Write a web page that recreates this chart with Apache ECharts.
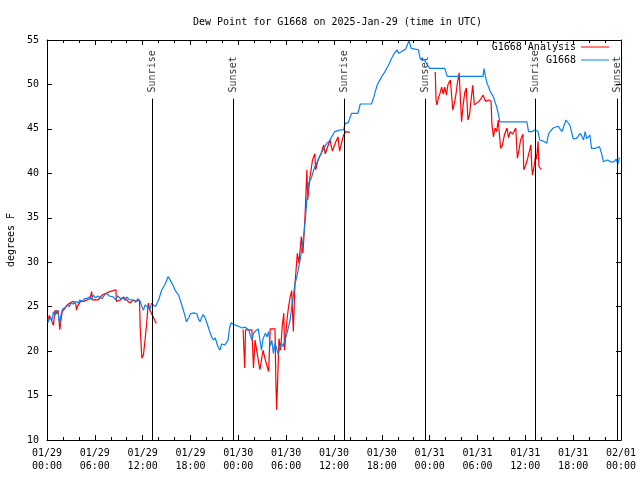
<!DOCTYPE html>
<html>
<head>
<meta charset="utf-8">
<script src="https://cdn.jsdelivr.net/npm/echarts@6/dist/echarts.min.js"></script>
<style>html,body{margin:0;padding:0;background:#fff}#c{width:640px;height:480px}</style>
</head>
<body>
<div id="c"></div>
<script>
var titleText = 'Dew Point for G1668 on 2025-Jan-29 (time in UTC)';
var yAxisName = 'degrees F';
var xTickLabels = ['01/29\n00:00','01/29\n06:00','01/29\n12:00','01/29\n18:00','01/30\n00:00','01/30\n06:00','01/30\n12:00','01/30\n18:00','01/31\n00:00','01/31\n06:00','01/31\n12:00','01/31\n18:00','02/01\n00:00'];

// G1668 (blue): hours since 01/29 00:00 UTC, dew point F
var blueHours = [0.1,0.4,0.6,0.8,1.0,1.2,1.4,1.6,1.8,2.0,2.3,2.5,2.8,3.0,3.3,3.6,3.9,4.1,4.4,4.7,5.0,5.3,5.6,5.8,6.1,6.4,6.6,6.9,7.2,7.5,7.8,8.0,8.3,8.6,8.9,9.2,9.5,9.8,10.0,10.3,10.5,10.8,11.1,11.4,11.7,11.9,12.1,12.3,12.5,12.7,12.9,13.1,13.3,13.6,14.0,14.4,14.8,15.2,15.5,15.8,16.1,16.5,16.8,17.1,17.3,17.5,17.8,18.0,18.4,18.8,19.0,19.2,19.4,19.6,19.8,20.0,20.2,20.4,20.7,20.9,21.1,21.4,21.7,21.9,22.1,22.3,22.5,22.7,22.9,23.1,23.4,23.7,24.0,24.2,24.5,24.8,25.0,25.3,25.5,25.7,25.9,26.2,26.5,26.7,26.9,27.1,27.4,27.6,27.8,28.0,28.2,28.4,28.6,28.8,29.0,29.2,29.4,29.6,29.9,30.1,30.3,30.5,30.7,30.9,31.1,31.3,31.5,31.8,32.0,32.2,32.4,32.6,32.8,33.0,33.2,33.4,33.6,33.9,34.2,34.5,34.8,35.1,35.4,35.7,36.1,36.5,36.9,37.2,37.4,37.8,38.2,38.6,39.0,39.3,39.8,40.2,40.7,41.0,41.4,41.7,42.0,42.3,42.6,42.9,43.2,43.5,43.9,44.1,44.3,44.5,44.7,45.0,45.1,45.4,45.7,46.0,46.6,46.8,47.1,47.4,47.7,48.0,49.9,50.2,54.7,54.8,55.0,55.2,55.4,55.6,56.0,56.2,56.4,56.6,56.8,60.2,60.4,60.9,61.2,61.6,61.8,62.3,62.7,62.9,63.1,63.5,64.1,64.6,65.1,65.6,66.0,66.4,66.9,67.3,67.5,67.7,68.1,68.3,68.7,69.3,69.6,69.8,70.3,70.5,70.7,71.1,71.4,71.6,71.8];
var blueValues = [23.2,23.8,23.4,24.4,24.0,24.6,24.2,23.1,24.3,24.8,24.9,25.2,25.0,25.4,25.3,25.6,25.4,25.75,25.6,25.9,25.9,26.1,25.8,26.3,26.0,26.2,26.1,25.9,26.3,26.5,26.2,26.0,26.1,25.8,26.2,25.9,26.0,25.7,26.1,25.8,26.0,25.75,25.5,25.9,25.6,25.0,24.6,25.2,25.4,24.9,24.6,25.4,25.2,25.0,25.75,26.9,27.5,28.4,27.9,27.4,26.8,26.3,25.5,24.6,24.0,23.3,23.8,24.2,24.3,24.2,23.6,23.3,23.8,24.1,23.8,23.3,22.8,22.2,21.5,21.25,21.5,20.6,20.1,20.8,21.0,20.7,20.5,21.2,22.6,23.2,23.0,22.9,22.8,22.9,22.6,22.7,22.55,22.4,21.8,21.25,22.0,22.3,22.5,22.4,20.1,21.4,22.0,21.6,22.2,20.6,21.2,19.75,20.9,20.3,19.6,20.4,20.9,20.5,21.4,22.0,22.75,23.5,25.0,26.2,27.6,28.2,29.1,30.5,31.75,33.0,34.75,37.0,38.9,39.2,39.6,40.2,40.75,41.3,41.9,42.4,42.9,43.4,43.6,44.1,44.7,44.8,44.9,44.9,45.6,45.7,46.75,46.75,46.75,47.8,47.8,47.8,47.8,48.6,49.9,50.4,50.9,51.3,51.8,52.3,52.9,53.4,53.9,53.5,53.3,53.7,53.8,54.0,54.25,54.9,54.05,54.0,53.9,52.9,52.9,52.7,52.2,51.8,51.8,50.9,50.9,51.8,50.9,50.1,49.7,49.2,48.6,48.0,47.5,46.75,45.8,45.8,44.7,44.7,44.9,44.7,43.75,43.6,43.4,44.4,44.7,45.1,45.3,44.7,46.0,45.4,43.9,43.9,44.5,43.75,44.7,43.9,44.3,42.8,42.8,43.0,42.1,41.3,41.5,41.6,41.3,41.3,41.6,41.0,41.8];

// G1668 Analysis (red), three segments
var redSeg1Hours = [0.1,0.3,0.5,0.8,1.0,1.2,1.4,1.6,1.9,2.3,2.7,3.0,3.3,3.6,3.7,3.8,4.2,4.6,5.0,5.4,5.6,5.7,6.0,6.4,6.9,7.4,7.9,8.3,8.65,8.7,9.2,9.6,10.0,10.4,10.8,11.2,11.6,11.7,11.9,12.1,12.3,12.5,12.7,12.9,13.1,13.3,13.5,13.7];
var redSeg1Values = [23.5,24.0,23.6,22.9,24.6,24.2,24.6,22.4,24.4,24.9,25.3,25.5,25.6,25.3,24.6,25.0,25.6,25.6,25.75,25.9,26.7,25.75,25.8,25.75,26.3,26.5,26.7,26.8,26.9,25.6,25.75,26.1,25.75,25.4,25.75,25.6,25.75,22.4,19.2,19.6,21.25,23.1,25.4,24.6,24.6,23.9,23.5,23.1];
var redSeg2Hours = [24.6,24.7,24.8,24.9,25.7,25.9,26.1,26.3,26.5,26.7,26.9,27.1,27.3,27.6,27.8,28.0,28.0,28.6,28.7,28.8,28.9,29.1,29.3,29.5,29.7,29.8,30.1,30.3,30.5,30.7,30.8,30.9,31.1,31.4,31.6,31.9,32.1,32.3,32.4,32.6,32.7,33.0,33.3,33.6,33.7,34.0,34.4,34.7,34.9,35.5,35.8,36.2,36.5,36.7,37.0,37.2,37.5,37.7,38.0];
var redSeg2Values = [22.4,22.4,18.1,22.4,22.4,18.1,21.25,20.1,19.0,17.9,17.9,20.1,19.3,18.3,17.7,17.7,22.5,22.5,17.0,13.4,15.9,21.4,20.1,22.75,24.25,20.1,23.5,25.0,26.1,26.8,24.4,22.2,27.5,31.0,29.9,32.9,31.0,34.0,35.9,40.4,37.0,39.6,41.5,42.2,40.4,41.5,42.3,43.2,42.2,43.75,42.5,43.5,44.1,42.5,43.6,44.3,44.7,44.9,44.6];
var redSeg3Hours = [48.7,48.8,48.9,49.1,49.3,49.5,49.7,49.9,50.1,50.3,50.6,50.7,50.9,51.1,51.3,51.5,51.7,51.8,52.0,52.2,52.4,52.6,52.8,53.0,53.2,53.4,53.6,53.9,54.2,54.5,54.7,55.0,55.4,55.7,55.8,56.0,56.2,56.4,56.6,56.8,56.9,57.1,57.4,57.7,57.9,58.1,58.4,58.8,59.0,59.2,59.4,59.7,59.8,60.0,60.3,60.7,60.8,60.9,61.1,61.3,61.4,61.6,61.7,61.9,62.0];
var redSeg3Values = [51.4,48.25,47.7,48.5,49.0,49.7,48.9,49.7,48.8,50.0,50.5,50.7,47.1,47.9,48.9,50.3,51.3,51.1,45.8,47.7,49.1,49.6,46.0,46.6,48.3,49.9,47.7,47.9,48.1,48.5,48.8,48.1,48.25,48.1,45.6,44.1,45.1,44.7,46.0,46.2,42.8,43.1,44.4,45.1,44.0,44.7,44.4,45.1,41.7,42.6,43.75,44.4,40.4,40.8,41.7,43.2,40.8,39.8,40.8,42.1,41.6,43.6,40.8,40.6,40.4];

var sunriseHours = [13.22, 37.25, 61.22];
var sunsetHours = [23.38, 47.45, 71.5];

var FONT = 'DejaVu Sans Mono';

function pairs(h, v) { return h.map(function (t, i) { return [t, v[i]]; }); }
var redData = pairs(redSeg1Hours, redSeg1Values)
  .concat([[18, null]])
  .concat(pairs(redSeg2Hours, redSeg2Values))
  .concat([[43, null]])
  .concat(pairs(redSeg3Hours, redSeg3Values));
var blueData = pairs(blueHours, blueValues);

var sunLines = [];
var sunLabels = [];
sunriseHours.forEach(function (t) {
  sunLines.push([{ coord: [t, 10] }, { coord: [t, 48.4] }]);
  sunLabels.push({ value: [t, 49.1], name: 'Sunrise' });
});
sunsetHours.forEach(function (t) {
  sunLines.push([{ coord: [t, 10] }, { coord: [t, 48.4] }]);
  sunLabels.push({ value: [t, 49.1], name: 'Sunset' });
});

var chart = echarts.init(document.getElementById('c'), null, { renderer: 'canvas' });
var axisCommon = {
  type: 'value', min: 0, max: 72, interval: 6,
  axisLine: { show: true, onZero: false, lineStyle: { color: '#000', width: 1 } },
  axisTick: { show: true, inside: true, length: 5, lineStyle: { color: '#000' } },
  minorTick: { show: true, splitNumber: 3, length: 3, lineStyle: { color: '#000' } },
  splitLine: { show: false }, minorSplitLine: { show: false }
};
var yCommon = {
  type: 'value', min: 10, max: 55, interval: 5,
  axisLine: { show: true, onZero: false, lineStyle: { color: '#000', width: 1 } },
  axisTick: { show: true, inside: true, length: 5, lineStyle: { color: '#000' } },
  splitLine: { show: false }
};
var legendText = { fontFamily: FONT, fontSize: 10, color: '#000' };
chart.setOption({
  animation: false,
  backgroundColor: '#fff',
  textStyle: { fontFamily: FONT },
  title: {
    text: titleText, left: 188, top: 12,
    textStyle: { fontFamily: FONT, fontSize: 10, fontWeight: 'normal', color: '#000' }
  },
  legend: [
    { data: ['G1668 Analysis'], right: 31, top: 42, align: 'right', padding: 0, icon: 'rect',
      itemWidth: 28, itemHeight: 1, textStyle: legendText },
    { data: ['G1668'], right: 31, top: 55, align: 'right', padding: 0, icon: 'rect',
      itemWidth: 28, itemHeight: 1, textStyle: legendText }
  ],
  grid: { left: 47, right: 19, top: 40, bottom: 40, containLabel: false, outerBoundsMode: 'none' },
  xAxis: [
    Object.assign({}, axisCommon, {
      position: 'bottom',
      axisLabel: {
        show: true, margin: 7, fontFamily: FONT, fontSize: 10, color: '#000', lineHeight: 13,
        formatter: function (v) { return xTickLabels[Math.round(v / 6)]; }
      }
    }),
    Object.assign({}, axisCommon, { position: 'top', axisLabel: { show: false } })
  ],
  yAxis: [
    Object.assign({}, yCommon, {
      position: 'left',
      name: yAxisName, nameLocation: 'middle', nameGap: 30, nameRotate: 90,
      nameTextStyle: { fontFamily: FONT, fontSize: 10, color: '#000' },
      axisLabel: { show: true, margin: 8, fontFamily: FONT, fontSize: 10, color: '#000' }
    }),
    Object.assign({}, yCommon, { position: 'right', axisLabel: { show: false } })
  ],
  series: [
    {
      name: 'G1668 Analysis', type: 'line', data: redData, symbol: 'none',
      connectNulls: false, color: '#ff0000',
      lineStyle: { color: '#ff0000', width: 1.2 }
    },
    {
      name: 'G1668', type: 'line', data: blueData, symbol: 'none',
      color: '#0a80f0',
      lineStyle: { color: '#0a80f0', width: 1.2 },
      markLine: {
        silent: true, symbol: ['none', 'none'], animation: false,
        label: { show: false },
        lineStyle: { color: '#000', width: 1, type: 'solid' },
        data: sunLines
      }
    },
    {
      name: 'sun', type: 'scatter', data: sunLabels, symbolSize: 0, silent: true,
      label: {
        show: true, position: [0, 0], rotate: 90, align: 'left', verticalAlign: 'middle',
        fontFamily: FONT, fontSize: 10, color: '#000',
        formatter: function (p) { return p.name; }
      }
    }
  ]
});
</script>
</body>
</html>
